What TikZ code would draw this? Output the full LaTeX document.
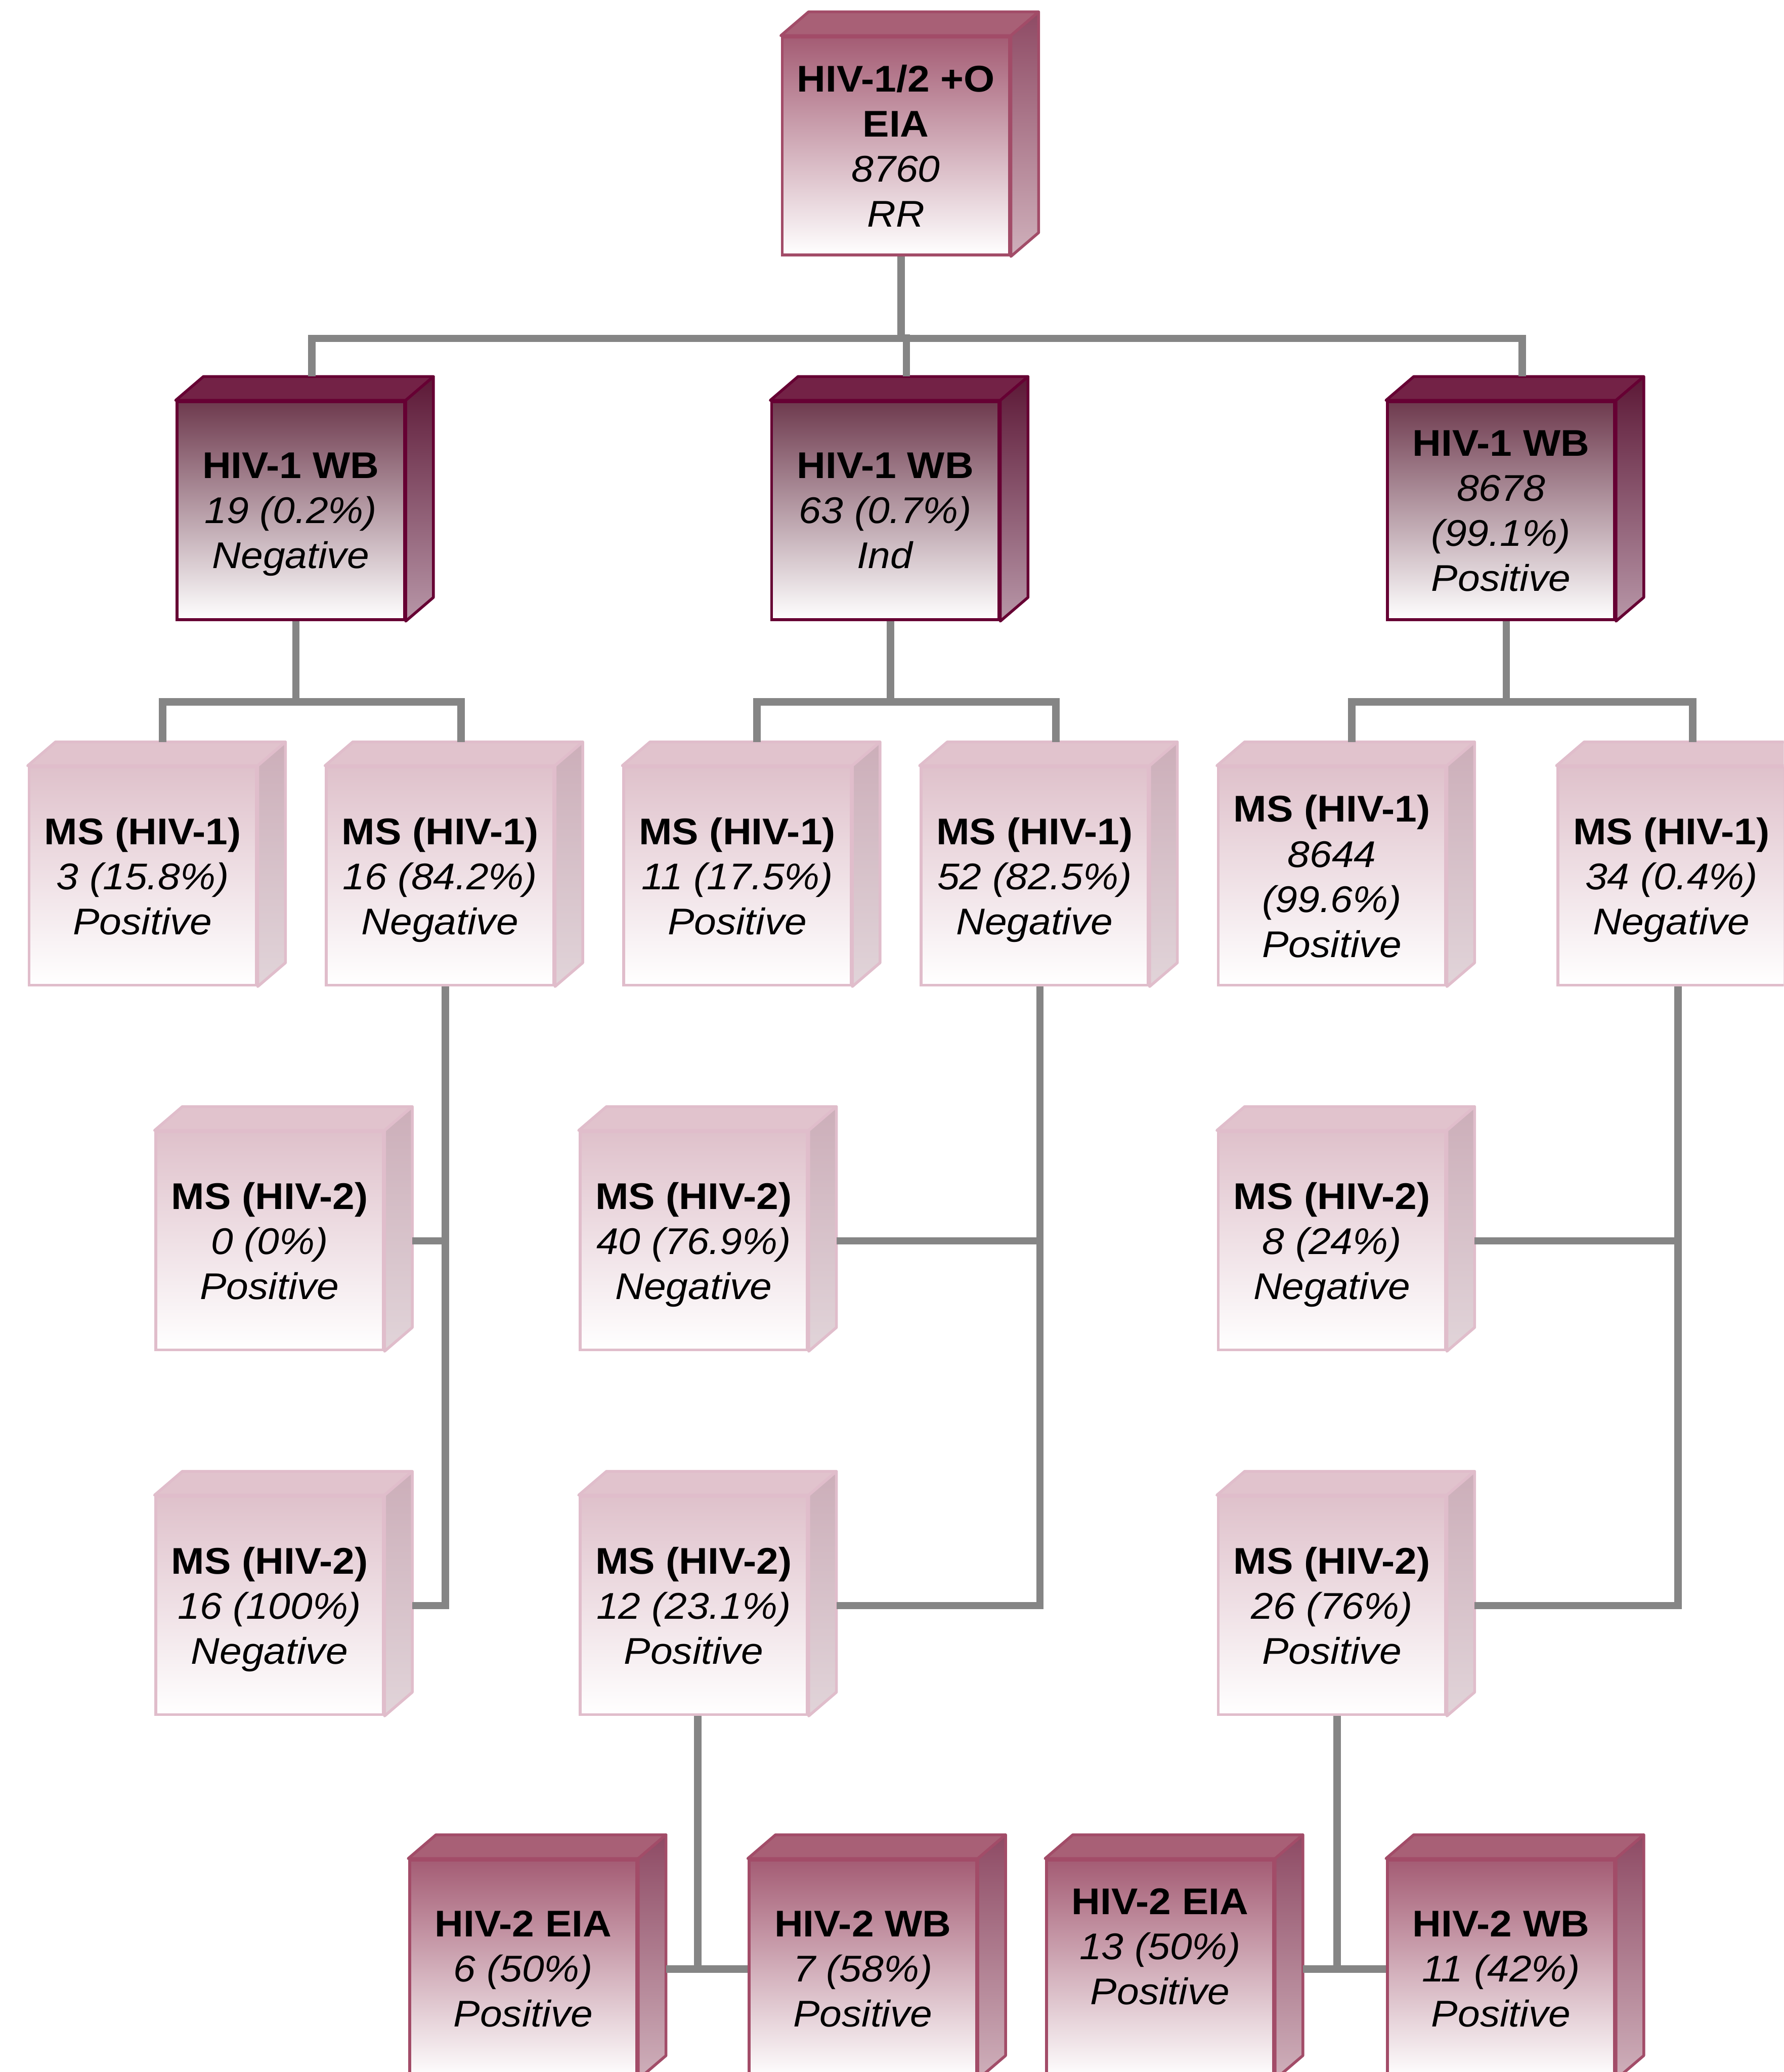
\documentclass[tikz,border=0pt]{standalone}
\usepackage{fontspec}
\setmainfont{Liberation Sans}[FakeStretch=1.07]
\usetikzlibrary{calc}

\definecolor{dkFront}{HTML}{6E3A4E}
\definecolor{dkTop}{HTML}{732246}
\definecolor{dkSideA}{HTML}{5C1836}
\definecolor{dkSideB}{HTML}{B897A8}
\definecolor{dkLine}{HTML}{660033}
\definecolor{mdFront}{HTML}{A45C74}
\definecolor{mdTop}{HTML}{A86076}
\definecolor{mdSideA}{HTML}{8E4A64}
\definecolor{mdSideB}{HTML}{CFB0BB}
\definecolor{mdLine}{HTML}{A24C68}
\definecolor{ltFront}{HTML}{DFC1CB}
\definecolor{ltTop}{HTML}{E1C3CD}
\definecolor{ltSideA}{HTML}{CCAEB9}
\definecolor{ltSideB}{HTML}{E1D4D9}
\definecolor{ltLine}{HTML}{E0BDCB}
\definecolor{connGray}{HTML}{858585}

\tikzset{
  front/.style={draw=#1Line, line width=0.6pt, top color=#1Front, bottom color=white,
    minimum width=17.2mm, minimum height=16.5mm, inner sep=0pt, align=center,
    font=\fontsize{8pt}{9.7pt}\selectfont},
  conn/.style={draw=connGray, line width=1.6pt},
}

% last line of a box, without its descender
\newcommand{\lastline}[1]{\raisebox{0pt}[\height][0pt]{\textit{#1}}}

% #1 name, #2 position, #3 palette, #4 text
\newcommand{\testbox}[4]{%
  \node[front=#3] (#1) at (#2) {#4};
  \filldraw[fill=#3Top, draw=#3Line, line width=0.6pt, line join=round]
    (#1.north west) -- ++(21,-18) -- ($(#1.north east)+(21,-18)$) -- (#1.north east) -- cycle;
  \shade[top color=#3SideA, bottom color=#3SideB, draw=#3Line, line width=0.6pt, line join=round]
    (#1.north east) -- ++(21,-18) -- ($(#1.south east)+(21,-18)$) -- (#1.south east) -- cycle;
}

\begin{document}
\begin{tikzpicture}[x=0.1mm,y=-0.1mm]
  \useasboundingbox (0,0) rectangle (1350,1568);
  \clip (0,0) rectangle (1350,1568);

  % screening
  \testbox{eia}{678,110.5}{md}{\textbf{HIV-1/2 +O}\\\textbf{EIA}\\\textit{8760}\\\lastline{RR}}

  % HIV-1 western blot
  \testbox{w1}{220,386.5}{dk}{\textbf{HIV-1 WB}\\\textit{19 (0.2\%)}\\\lastline{Negative}}
  \testbox{w2}{670,386.5}{dk}{\textbf{HIV-1 WB}\\\textit{63 (0.7\%)}\\\lastline{Ind}}
  \testbox{w3}{1136,386.5}{dk}{\textbf{HIV-1 WB}\\\textit{8678}\\\textit{(99.1\%)}\\\lastline{Positive}}

  % multispot HIV-1
  \testbox{a1}{108,663}{lt}{\textbf{MS (HIV-1)}\\\textit{3 (15.8\%)}\\\lastline{Positive}}
  \testbox{a2}{333,663}{lt}{\textbf{MS (HIV-1)}\\\textit{16 (84.2\%)}\\\lastline{Negative}}
  \testbox{a3}{558,663}{lt}{\textbf{MS (HIV-1)}\\\textit{11 (17.5\%)}\\\lastline{Positive}}
  \testbox{a4}{783,663}{lt}{\textbf{MS (HIV-1)}\\\textit{52 (82.5\%)}\\\lastline{Negative}}
  \testbox{a5}{1008,663}{lt}{\textbf{MS (HIV-1)}\\\textit{8644}\\\textit{(99.6\%)}\\\lastline{Positive}}
  \testbox{a6}{1265,663}{lt}{\textbf{MS (HIV-1)}\\\textit{34 (0.4\%)}\\\lastline{Negative}}

  % multispot HIV-2
  \testbox{b1}{204,939}{lt}{\textbf{MS (HIV-2)}\\\textit{0 (0\%)}\\\lastline{Positive}}
  \testbox{b2}{525,939}{lt}{\textbf{MS (HIV-2)}\\\textit{40 (76.9\%)}\\\lastline{Negative}}
  \testbox{b3}{1008,939}{lt}{\textbf{MS (HIV-2)}\\\textit{8 (24\%)}\\\lastline{Negative}}
  \testbox{c1}{204,1215}{lt}{\textbf{MS (HIV-2)}\\\textit{16 (100\%)}\\\lastline{Negative}}
  \testbox{c2}{525,1215}{lt}{\textbf{MS (HIV-2)}\\\textit{12 (23.1\%)}\\\lastline{Positive}}
  \testbox{c3}{1008,1215}{lt}{\textbf{MS (HIV-2)}\\\textit{26 (76\%)}\\\lastline{Positive}}

  % HIV-2 confirmation
  \testbox{d1}{396,1490}{md}{\textbf{HIV-2 EIA}\\\textit{6 (50\%)}\\\lastline{Positive}}
  \testbox{d2}{653,1490}{md}{\textbf{HIV-2 WB}\\\textit{7 (58\%)}\\\lastline{Positive}}
  \testbox{d3}{878,1490}{md}{\textbf{HIV-2 EIA}\\\textit{13 (50\%)}\\\textit{Positive}\\\mbox{}}
  \testbox{d4}{1136,1490}{md}{\textbf{HIV-2 WB}\\\textit{11 (42\%)}\\\lastline{Positive}}

  % connectors
  \draw[conn] ($(eia.south)+(4,0)$) -- ++(0,62) coordinate (j0);
  \draw[conn] ($(w1.north)+(16,-18)$) |- (j0) -| ($(w3.north)+(16,-18)$);
  \draw[conn] ($(w2.north)+(16,-18)$) -- ++(0,-32);

  \draw[conn] ($(w1.south)+(4,0)$) -- ++(0,61) coordinate (j1);
  \draw[conn] ($(a1.north)+(15,-18)$) |- (j1) -| ($(a2.north)+(16,-18)$);
  \draw[conn] ($(w2.south)+(4,0)$) -- ++(0,61) coordinate (j2);
  \draw[conn] ($(a3.north)+(15,-18)$) |- (j2) -| ($(a4.north)+(16,-18)$);
  \draw[conn] ($(w3.south)+(4,0)$) -- ++(0,61) coordinate (j3);
  \draw[conn] ($(a5.north)+(15,-18)$) |- (j3) -| ($(a6.north)+(16,-18)$);

  \coordinate (s2) at ($(a2.south)+(4,0)$);
  \draw[conn] (s2) |- ($(c1.east)+(21,0)$);
  \draw[conn] ($(b1.east)+(21,0)$) -- (b1.east -| s2);
  \coordinate (s4) at ($(a4.south)+(4,0)$);
  \draw[conn] (s4) |- ($(c2.east)+(21,0)$);
  \draw[conn] ($(b2.east)+(21,0)$) -- (b2.east -| s4);
  \coordinate (s6) at ($(a6.south)+(5,0)$);
  \draw[conn] (s6) |- ($(c3.east)+(21,0)$);
  \draw[conn] ($(b3.east)+(21,0)$) -- (b3.east -| s6);

  \coordinate (k2) at ($(c2.south)+(3,0)$);
  \draw[conn] (k2) |- (d2.west);
  \draw[conn] ($(d1.east)+(21,0)$) -- (d1.east -| k2);
  \coordinate (k3) at ($(c3.south)+(4,0)$);
  \draw[conn] (k3) |- (d4.west);
  \draw[conn] ($(d3.east)+(21,0)$) -- (d3.east -| k3);
\end{tikzpicture}
\end{document}
